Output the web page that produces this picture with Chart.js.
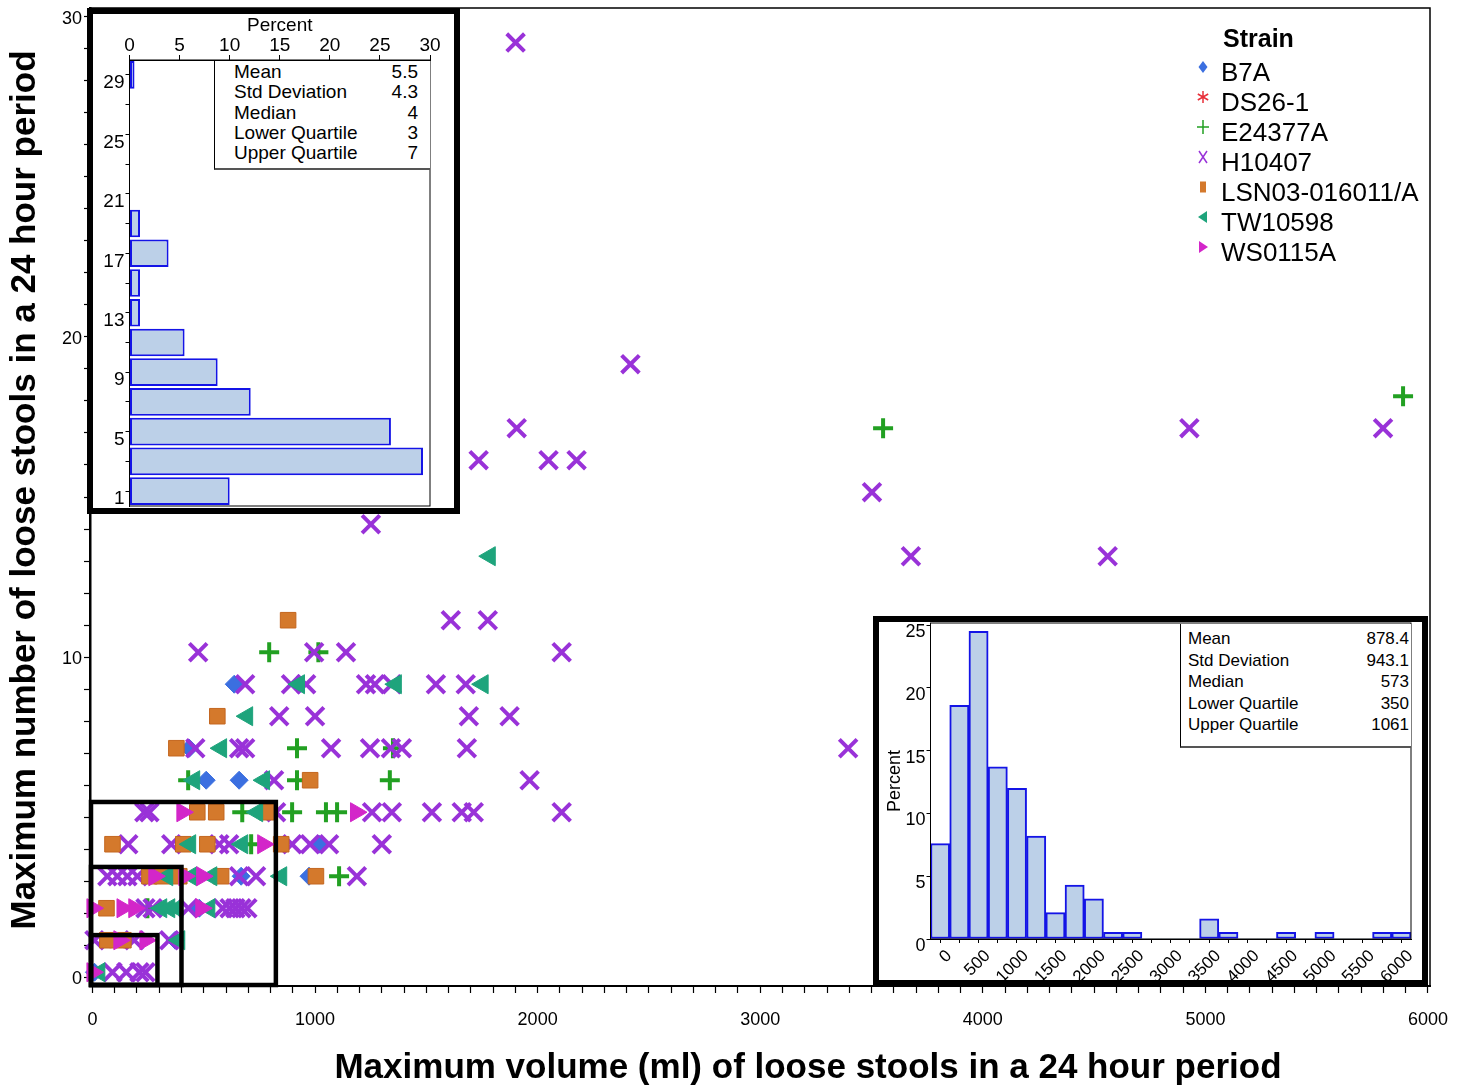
<!DOCTYPE html>
<html><head><meta charset="utf-8">
<script src="https://cdn.jsdelivr.net/npm/chart.js@4.4.1/dist/chart.umd.min.js"></script>
<style>
html,body{margin:0;padding:0;background:#fff;}
body{width:1468px;height:1086px;position:relative;overflow:hidden;font-family:"Liberation Sans",Arial,sans-serif;color:#000;}
#main{position:absolute;left:0;top:0;}
.inset{position:absolute;box-sizing:border-box;border:6px solid #000;background:#fff;}
.inset canvas{display:block;}
#insetY{left:87px;top:8px;width:373px;height:506px;}
#insetX{left:873px;top:616px;width:555px;height:370px;}
.stats{position:absolute;box-sizing:border-box;background:#fff;border-left:1px solid #000;border-bottom:2px solid #555;}
.stats .row{display:flex;justify-content:space-between;white-space:nowrap;}
#statsY{left:214px;top:61px;width:216px;height:109px;font-size:19px;line-height:20.3px;padding:1px 12px 0 19px;}
#statsX{left:1180px;top:624px;width:231px;height:124px;font-size:17px;line-height:21.5px;padding:4px 2px 0 7px;}
</style>
</head><body>
<canvas id="main" width="1468" height="1086"></canvas>
<div id="insetY" class="inset"><canvas id="cy" width="361" height="494"></canvas></div>
<div id="insetX" class="inset"><canvas id="cx" width="543" height="358"></canvas></div>
<div id="statsY" class="stats"></div>
<div id="statsX" class="stats"></div>
<script>
// ---------------- DATA ----------------
const strainNames = ['B7A','DS26-1','E24377A','H10407','LSN03-016011/A','TW10598','WS0115A'];

const b7aX = [637, 435, 511, 659, 1018, 668, 973, 480, 372, 9];
const b7aY = [9.15, 7.15, 6.15, 6.15, 4.15, 3.15, 3.15, 2.15, 1.15, 0.15];

const ds26X = [81, 143];
const ds26Y = [1.15, 1.15];

const e24X = [5888, 3552, 794, 1015, 919, 1350, 430, 919, 1336, 673, 897, 1049, 1099, 713, 1108, 247];
const e24Y = [18.15, 17.15, 10.15, 10.15, 7.15, 7.15, 6.15, 6.15, 6.15, 5.15, 5.15, 5.15, 5.15, 4.15, 3.15, 2.15];

const h104X = [1901, 2417, 1906, 4928, 5798, 1735, 2049, 2175, 3502, 1251, 3677, 4561, 1610, 1776,
  475, 996, 1139, 2108, 686, 892, 960, 1229, 1269, 1345, 1543, 1677, 839, 1000, 1691, 1874,
  462, 659, 686, 1072, 1247, 1341, 1390, 1682, 3395, 816, 1964,
  233, 256, 825, 1256, 1345, 1525, 1659, 1713, 2108, 161, 354, 570, 614, 897, 978, 1063, 1300,
  67, 112, 157, 202, 659, 735, 1188, 238, 270, 431, 585, 616, 642, 669, 696, 9, 188, 345, 90, 152, 211, 238];
const h104Y = [29.2, 19.15, 17.15, 17.15, 17.15, 16.15, 16.15, 16.15, 15.15, 14.15, 13.15, 13.15, 11.15, 11.15,
  10.15, 10.15, 10.15, 10.15, 9.15, 9.15, 9.15, 9.15, 9.15, 9.15, 9.15, 9.15, 8.15, 8.15, 8.15, 8.15,
  7.15, 7.15, 7.15, 7.15, 7.15, 7.15, 7.15, 7.15, 7.15, 6.15, 6.15,
  5.15, 5.15, 5.15, 5.15, 5.15, 5.15, 5.15, 5.15, 5.15, 4.15, 4.15, 4.15, 4.15, 4.15, 4.15, 4.15, 4.15,
  3.15, 3.15, 3.15, 3.15, 3.15, 3.15, 3.15, 2.15, 2.15, 2.15, 2.15, 2.15, 2.15, 2.15, 2.15, 1.15, 1.15, 1.15, 0.15, 0.15, 0.15, 0.15];

const lsnX = [879, 561, 377, 978, 471, 556, 785, 90, 408, 516, 848, 256, 314, 390, 578, 1004, 63, 67, 139];
const lsnY = [11.15, 8.15, 7.15, 6.15, 5.15, 5.15, 5.15, 4.15, 4.15, 4.15, 4.15, 3.15, 3.15, 3.15, 3.15, 3.15, 2.15, 1.15, 1.15];

const twX = [1785, 928, 1363, 1753, 695, 578, 457, 771, 740, 439, 673, 336, 444, 534, 848, 309, 345, 381, 525, 390, 31];
const twY = [13.15, 9.15, 9.15, 9.15, 8.15, 7.15, 6.15, 6.15, 5.15, 4.15, 4.15, 3.15, 3.15, 3.15, 3.15, 2.15, 2.15, 2.15, 2.15, 1.15, 0.15];

const wsX = [404, 1184, 767, 278, 413, 493, 0, 135, 188, 489, 121, 238, 0];
const wsY = [5.15, 5.15, 4.15, 3.15, 3.15, 3.15, 2.15, 2.15, 2.15, 2.15, 1.15, 1.15, 0.15];

const seriesX = [b7aX, ds26X, e24X, h104X, lsnX, twX, wsX];
const seriesY = [b7aY, ds26Y, e24Y, h104Y, lsnY, twY, wsY];

// main axis ticks
const xMajorTicks = [0, 1000, 2000, 3000, 4000, 5000, 6000];
const yMajorTicks = [0, 10, 20, 30];

// zoom boxes (right edge in ml, top edge in stools)
const boxRight = [824, 400, 292];
const boxTop = [5.47, 3.44, 1.31];

// histogram of number of stools
const yBins = ['1','3','5','7','9','11','13','15','17','19','21','23','25','27','29'];
const yPct = [10.0, 29.3, 26.1, 12.1, 8.8, 5.5, 1.05, 1.05, 3.9, 1.05, 0, 0, 0, 0, 0.5];
const yPctTicks = [0, 5, 10, 15, 20, 25, 30];

// histogram of volume
const xBins = ['0','250','500','750','1000','1250','1500','1750','2000','2250','2500','2750','3000',
  '3250','3500','3750','4000','4250','4500','4750','5000','5250','5500','5750','6000'];
const xPct = [7.6, 18.6, 24.5, 13.7, 12.0, 8.2, 2.1, 4.3, 3.2, 0.53, 0.53, 0, 0, 0, 1.6, 0.53, 0, 0, 0.53, 0, 0.53, 0, 0, 0.53, 0.53];
const xPctTicks = [0, 5, 10, 15, 20, 25];

const statLabels = ['Mean','Std Deviation','Median','Lower Quartile','Upper Quartile'];
const statsYVals = ['5.5','4.3','4','3','7'];
const statsXVals = ['878.4','943.1','573','350','1061'];

const xTitle = 'Maximum volume (ml) of loose stools in a 24 hour period';
const yTitle = 'Maximum number of loose stools in a 24 hour period';
const legendTitle = 'Strain';

// ---------------- STYLES ----------------
const FONT = '"Liberation Sans", Arial, Helvetica, sans-serif';
Chart.defaults.font.family = FONT;
Chart.defaults.color = '#000';

const styles = [
  {pointStyle:'rectRot', radius:9, rotation:0, bg:'#3b6fe0', border:'#3b6fe0', bw:1},
  {pointStyle:'star', radius:8, rotation:0, bg:'#e8303a', border:'#e8303a', bw:2},
  {pointStyle:'cross', radius:10, rotation:0, bg:'#22a022', border:'#22a022', bw:4},
  {pointStyle:'crossRot', radius:12.5, rotation:0, bg:'#9932d8', border:'#9932d8', bw:4},
  {pointStyle:'rect', radius:11, rotation:0, bg:'#d4792c', border:'#c4661f', bw:1},
  {pointStyle:'triangle', radius:11, rotation:-90, bg:'#1ea47c', border:'#1ea47c', bw:1},
  {pointStyle:'triangle', radius:11, rotation:90, bg:'#d326c9', border:'#d326c9', bw:1}
];

const datasets = strainNames.map((name, i) => ({
  label: name,
  data: seriesX[i].map((x, j) => ({x: x, y: seriesY[i][j]})),
  pointStyle: styles[i].pointStyle,
  pointRadius: styles[i].radius,
  rotation: styles[i].rotation,
  backgroundColor: styles[i].bg,
  borderColor: styles[i].border,
  borderWidth: styles[i].bw,
  order: strainNames.length - i,
  clip: false
}));

function drawLegendMarker(ctx, idx, x, y) {
  const s = styles[idx];
  ctx.save();
  ctx.fillStyle = s.bg; ctx.strokeStyle = s.border; ctx.lineWidth = 1.5;
  ctx.beginPath();
  if (s.pointStyle === 'rectRot') {
    ctx.moveTo(x, y - 6); ctx.lineTo(x + 4.5, y); ctx.lineTo(x, y + 6); ctx.lineTo(x - 4.5, y); ctx.closePath(); ctx.fill();
  } else if (s.pointStyle === 'star') {
    for (let k = 0; k < 3; k++) {
      const a = Math.PI / 2 + k * Math.PI / 3;
      ctx.moveTo(x - Math.cos(a) * 6, y - Math.sin(a) * 6);
      ctx.lineTo(x + Math.cos(a) * 6, y + Math.sin(a) * 6);
    }
    ctx.stroke();
  } else if (s.pointStyle === 'cross') {
    ctx.moveTo(x - 6, y); ctx.lineTo(x + 6, y); ctx.moveTo(x, y - 7); ctx.lineTo(x, y + 7); ctx.stroke();
  } else if (s.pointStyle === 'crossRot') {
    ctx.moveTo(x - 4, y - 6); ctx.lineTo(x + 4, y + 6); ctx.moveTo(x + 4, y - 6); ctx.lineTo(x - 4, y + 6); ctx.stroke();
  } else if (s.pointStyle === 'rect') {
    ctx.rect(x - 3, y - 5.5, 6, 11); ctx.fill();
  } else if (s.pointStyle === 'triangle') {
    const d = s.rotation > 0 ? 1 : -1;
    ctx.moveTo(x + d * 5, y); ctx.lineTo(x - d * 4, y - 6); ctx.lineTo(x - d * 4, y + 6); ctx.closePath(); ctx.fill();
  }
  ctx.restore();
}

const framePlugin = {
  id: 'frame',
  afterDraw(chart, args, opts) {
    const a = chart.chartArea, ctx = chart.ctx;
    ctx.save();
    ctx.strokeStyle = '#000';
    ctx.lineWidth = opts.width || 1;
    ctx.strokeRect(a.left, a.top, a.right - a.left, a.bottom - a.top);
    ctx.restore();
  }
};

const boxesPlugin = {
  id: 'boxes',
  afterDatasetsDraw(chart) {
    const ctx = chart.ctx, a = chart.chartArea, xs = chart.scales.x, ys = chart.scales.y;
    ctx.save();
    ctx.strokeStyle = '#000';
    ctx.lineWidth = 4.5;
    for (let i = 0; i < boxRight.length; i++) {
      const r = xs.getPixelForValue(boxRight[i]);
      const t = ys.getPixelForValue(boxTop[i]);
      ctx.strokeRect(a.left + 1, t, r - a.left - 1, a.bottom - t - 1);
    }
    ctx.restore();
  }
};

const mainDecorPlugin = {
  id: 'mainDecor',
  afterDraw(chart) {
    const ctx = chart.ctx;
    ctx.save();
    ctx.fillStyle = '#000';
    ctx.font = 'bold 35px ' + FONT;
    ctx.textAlign = 'center';
    ctx.textBaseline = 'middle';
    ctx.fillText(xTitle, 808, 1068);
    ctx.translate(25, 490);
    ctx.rotate(-Math.PI / 2);
    ctx.fillText(yTitle, 0, 0);
    ctx.restore();
    // legend
    ctx.save();
    ctx.fillStyle = '#000';
    ctx.textBaseline = 'middle';
    ctx.textAlign = 'left';
    ctx.font = 'bold 25px ' + FONT;
    ctx.fillText(legendTitle, 1223, 40);
    ctx.font = '26px ' + FONT;
    strainNames.forEach((n, i) => {
      const y = 74 + i * 30;
      ctx.fillStyle = '#000';
      ctx.fillText(n, 1221, y);
      drawLegendMarker(ctx, i, 1203, y - 7);
    });
    ctx.restore();
  }
};

function noPadX(s, h) { s.height = h; s.paddingLeft = 0; s.paddingRight = 0; }
function noPadY(s, w) { s.width = w; s.paddingTop = 0; s.paddingBottom = 0; }

// ---------------- MAIN CHART ----------------
new Chart(document.getElementById('main'), {
  type: 'scatter',
  data: { datasets: datasets },
  options: {
    responsive: false,
    animation: false,
    layout: { autoPadding: false, padding: { top: 8, right: 38, left: 0, bottom: 0 } },
    plugins: { legend: { display: false }, tooltip: { enabled: false }, frame: { width: 1.5 } },
    scales: {
      x: {
        type: 'linear', min: -11, max: 6009,
        afterBuildTicks: s => {
          const t = [];
          for (let v = 0; v <= 6000; v += 100) t.push({ value: v });
          s.ticks = t;
        },
        ticks: { autoSkip: false, maxRotation: 0, minRotation: 0, padding: 16,
          font: { size: 18 }, color: '#000',
          callback: v => (xMajorTicks.indexOf(v) >= 0 ? String(v) : '') },
        grid: { drawOnChartArea: false, drawTicks: true, tickLength: 7, color: '#000', tickWidth: 1.2 },
        border: { display: true, color: '#000', width: 2 },
        afterFit: s => noPadX(s, 100)
      },
      y: {
        type: 'linear', min: -0.28, max: 30.28,
        afterBuildTicks: s => {
          const t = [];
          for (let v = 0; v <= 30; v += 1) t.push({ value: v });
          s.ticks = t;
        },
        ticks: { autoSkip: false, padding: 2, font: { size: 18 }, color: '#000', labelOffset: 2,
          callback: v => (yMajorTicks.indexOf(v) >= 0 ? String(v) : '') },
        grid: { drawOnChartArea: false, drawTicks: true, tickLength: 6, color: '#000', tickWidth: 1.2 },
        border: { display: true, color: '#000', width: 2.5 },
        afterFit: s => noPadY(s, 90)
      }
    }
  },
  plugins: [framePlugin, boxesPlugin, mainDecorPlugin]
});

// ---------------- INSET: number of stools ----------------
new Chart(document.getElementById('cy'), {
  type: 'bar',
  data: { labels: yBins, datasets: [{ data: yPct, backgroundColor: '#bcd0e8', borderColor: '#1414e6',
    borderWidth: c => (c.raw > 0 ? 2 : 0), borderSkipped: false, barPercentage: 0.93, categoryPercentage: 1 }] },
  options: {
    indexAxis: 'y', responsive: false, animation: false,
    layout: { padding: { top: 0, right: 24, bottom: 2, left: 0 } },
    plugins: { legend: { display: false }, tooltip: { enabled: false }, frame: { width: 1 } },
    scales: {
      x: {
        position: 'top', type: 'linear', min: 0, max: 30,
        afterBuildTicks: s => { s.ticks = yPctTicks.map(v => ({ value: v })); },
        ticks: { font: { size: 19 }, color: '#000', padding: -2, maxRotation: 0 },
        title: { display: true, text: 'Percent', font: { size: 19 }, color: '#000', padding: { top: 0, bottom: 0 } },
        grid: { drawOnChartArea: false, tickLength: 5, color: '#000' },
        border: { display: true, color: '#000', width: 1 },
        afterFit: s => noPadX(s, 46)
      },
      y: {
        reverse: true,
        ticks: { autoSkip: false, font: { size: 19 }, color: '#000', padding: 1, labelOffset: 8,
          callback: function (v, i) { return i % 2 === 0 ? this.getLabelForValue(v) : ''; } },
        grid: { drawOnChartArea: false, offset: false, tickLength: 4, color: '#000' },
        border: { display: true, color: '#000', width: 1 },
        afterFit: s => noPadY(s, 36.5)
      }
    }
  },
  plugins: [framePlugin]
});

// ---------------- INSET: volume ----------------
new Chart(document.getElementById('cx'), {
  type: 'bar',
  data: { labels: xBins, datasets: [{ data: xPct, backgroundColor: '#bcd0e8', borderColor: '#1414e6',
    borderWidth: c => (c.raw > 0 ? 2 : 0), borderSkipped: false, barPercentage: 1, categoryPercentage: 1 }] },
  options: {
    responsive: false, animation: false,
    layout: { padding: { top: 1, right: 11, bottom: 0, left: 0 } },
    plugins: { legend: { display: false }, tooltip: { enabled: false }, frame: { width: 1 } },
    scales: {
      x: {
        ticks: { autoSkip: false, maxRotation: 45, minRotation: 45, font: { size: 17 }, color: '#000', padding: 3, labelOffset: 9,
          callback: function (v, i) { return i % 2 === 0 ? this.getLabelForValue(v) : ''; } },
        grid: { drawOnChartArea: false, offset: false, tickLength: 4, color: '#000' },
        border: { display: true, color: '#000', width: 1 },
        afterFit: s => noPadX(s, 41)
      },
      y: {
        type: 'linear', min: 0, max: 25.16,
        afterBuildTicks: s => { s.ticks = xPctTicks.map(v => ({ value: v })); },
        ticks: { font: { size: 18 }, color: '#000', padding: 1, labelOffset: 7 },
        title: { display: true, text: 'Percent', font: { size: 18 }, color: '#000', padding: { top: 5, bottom: 0 } },
        grid: { drawOnChartArea: false, tickLength: 4, color: '#000' },
        border: { display: true, color: '#000', width: 1 },
        afterFit: s => noPadY(s, 51.5)
      }
    }
  },
  plugins: [framePlugin]
});

// ---------------- STATS TABLES ----------------
function fillStats(id, vals) {
  const el = document.getElementById(id);
  statLabels.forEach((l, i) => {
    const r = document.createElement('div');
    r.className = 'row';
    const a = document.createElement('span'); a.textContent = l;
    const b = document.createElement('span'); b.textContent = vals[i];
    r.appendChild(a); r.appendChild(b);
    el.appendChild(r);
  });
}
fillStats('statsY', statsYVals);
fillStats('statsX', statsXVals);
</script>
</body></html>
